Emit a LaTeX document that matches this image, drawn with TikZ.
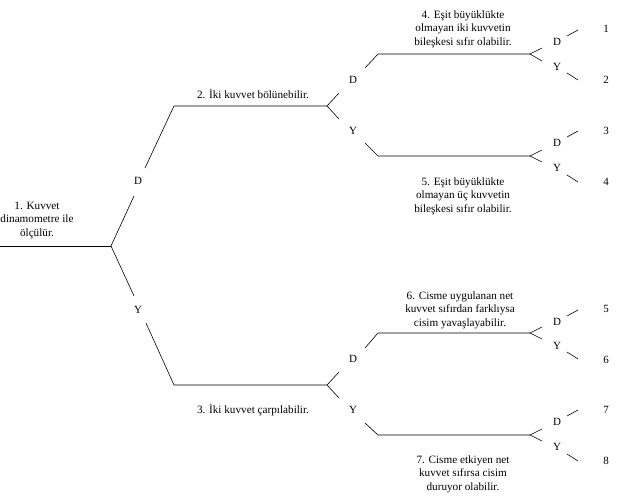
\documentclass[tikz,border=0pt]{standalone}
\usepackage{fontspec}
\setmainfont{Liberation Serif}
\begin{document}
\begin{tikzpicture}[x=1pt,y=-1pt,
	branch/.style={line width=0.6pt},
	claim/.style={align=center,font=\fontsize{11.2}{13.5}\selectfont,inner sep=0pt},
	choice/.style={font=\fontsize{11}{12}\selectfont,inner sep=0pt}]
	\useasboundingbox (0,0) rectangle (618,495);

	% Statement 1 (root)
	\coordinate (root0) at (0,246);
	\coordinate (root) at (111,246);
	\node[claim] (s1) at (37,220) {1. Kuvvet\\dinamometre ile\\ölçülür.};
	\draw[branch] (root0) -- (root);

	% Branch D -> statement 2
	\node[choice] (d1) at (138,181) {D};
	\coordinate (a1) at (134,196);
	\coordinate (a2) at (145,168);
	\coordinate (a3) at (174,106);
	\coordinate (fa) at (327,106); % fork of statement 2
	\draw[branch] (root) -- (a1);
	\draw[branch] (a2) -- (a3) -- (fa);
	\node[claim] (s2) at (253,94) {2. İki kuvvet bölünebilir.};

	% Branch Y -> statement 3
	\node[choice] (y1) at (138,310) {Y};
	\coordinate (b1) at (134,296);
	\coordinate (b2) at (146,323);
	\coordinate (b3) at (174,385);
	\coordinate (fb) at (327,385); % fork of statement 3
	\draw[branch] (root) -- (b1);
	\draw[branch] (b2) -- (b3) -- (fb);
	\node[claim] (s3) at (253,410) {3. İki kuvvet çarpılabilir.};

	% Fork of statement 2
	\draw[branch] (339,93) -- (fa) -- (339,119);
	\node[choice] (d2) at (353,80) {D};
	\node[choice] (y2) at (353,131) {Y};

	% Statement 4
	\coordinate (fc) at (530,54);
	\draw[branch] (365,68) -- (378,54) -- (fc);
	\node[claim] (s4) at (463,29) {4. Eşit büyüklükte\\olmayan iki kuvvetin\\bileşkesi sıfır olabilir.};
	\draw[branch] (542,48) -- (fc) -- (542,61);
	\node[choice] (d4) at (557,42) {D};
	\node[choice] (y4) at (557,67) {Y};
	\draw[branch] (567,36) -- (578,30);
	\draw[branch] (567,73) -- (578,80);
	\node[choice] (e1) at (606,29) {1};
	\node[choice] (e2) at (606,80) {2};

	% Statement 5
	\coordinate (fd) at (530,156);
	\draw[branch] (365,143) -- (378,156) -- (fd);
	\node[claim] (s5) at (463,196) {5. Eşit büyüklükte\\olmayan üç kuvvetin\\bileşkesi sıfır olabilir.};
	\draw[branch] (542,150) -- (fd) -- (542,162);
	\node[choice] (d5) at (557,143) {D};
	\node[choice] (y5) at (557,168) {Y};
	\draw[branch] (567,137) -- (578,131);
	\draw[branch] (567,175) -- (578,182);
	\node[choice] (e3) at (606,131) {3};
	\node[choice] (e4) at (606,182) {4};

	% Fork of statement 3
	\draw[branch] (339,372) -- (fb) -- (339,398);
	\node[choice] (d3) at (353,359) {D};
	\node[choice] (y3) at (353,410) {Y};

	% Statement 6
	\coordinate (fe) at (530,333);
	\draw[branch] (365,348) -- (378,333) -- (fe);
	\node[claim] (s6) at (460,310) {6. Cisme uygulanan net\\kuvvet sıfırdan farklıysa\\cisim yavaşlayabilir.};
	\draw[branch] (542,327) -- (fe) -- (542,339);
	\node[choice] (d6) at (557,322) {D};
	\node[choice] (y6) at (557,346) {Y};
	\draw[branch] (567,316) -- (578,310);
	\draw[branch] (567,352) -- (578,359);
	\node[choice] (e5) at (606,309) {5};
	\node[choice] (e6) at (606,360) {6};

	% Statement 7
	\coordinate (ff) at (530,435);
	\draw[branch] (365,423) -- (378,435) -- (ff);
	\node[claim] (s7) at (463,474) {7. Cisme etkiyen net\\kuvvet sıfırsa cisim\\duruyor olabilir.};
	\draw[branch] (542,429) -- (ff) -- (542,441);
	\node[choice] (d7) at (557,422) {D};
	\node[choice] (y7) at (557,447) {Y};
	\draw[branch] (567,416) -- (578,410);
	\draw[branch] (567,454) -- (578,461);
	\node[choice] (e7) at (606,410) {7};
	\node[choice] (e8) at (606,461) {8};

\end{tikzpicture}
\end{document}
